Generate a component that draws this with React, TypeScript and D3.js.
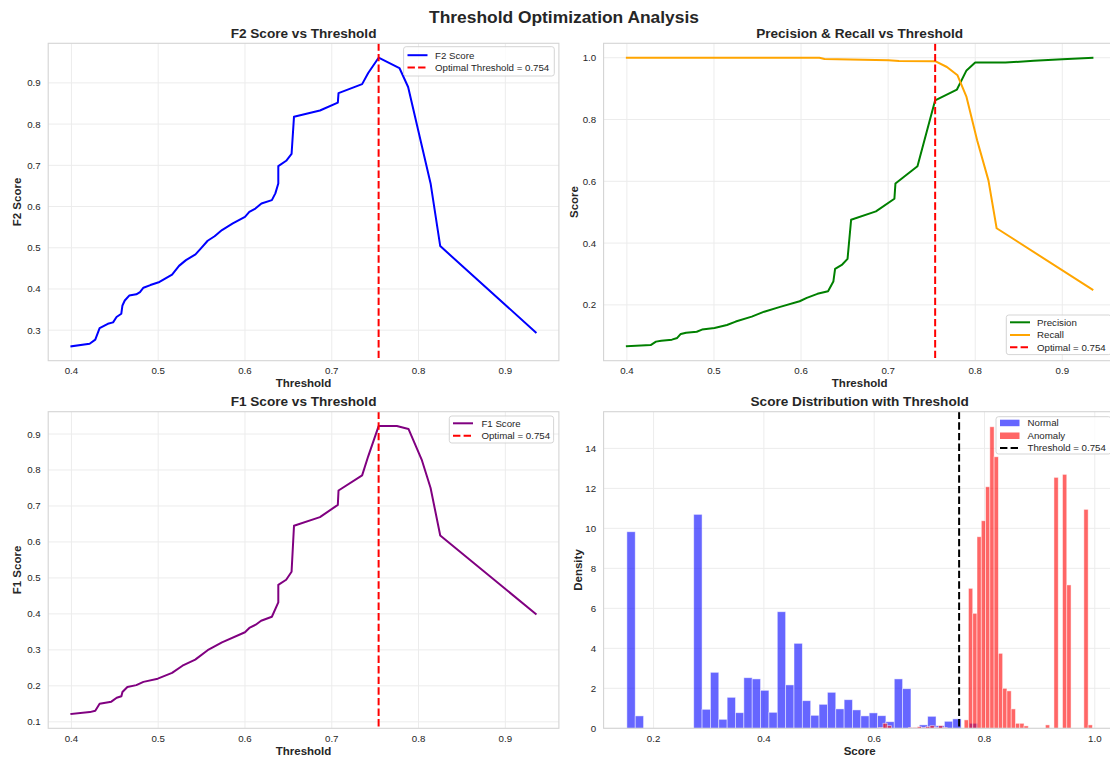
import React from 'react';
import * as d3 from 'd3';

// ---------------- DATA ----------------
const optimalThreshold = 0.754;

const f2Points: [number, number][] = [
  [0.4, 0.261], [0.421, 0.267], [0.4275, 0.277], [0.4325, 0.305], [0.442, 0.3155], [0.448, 0.319],
  [0.452, 0.332], [0.4575, 0.34], [0.4588, 0.36], [0.4615, 0.372], [0.4666, 0.384], [0.4748, 0.387],
  [0.479, 0.3925], [0.483, 0.403], [0.491, 0.4095], [0.5015, 0.417], [0.516, 0.435], [0.524, 0.456],
  [0.532, 0.47], [0.543, 0.484], [0.549, 0.498], [0.557, 0.517], [0.565, 0.528], [0.5735, 0.543],
  [0.586, 0.559], [0.6, 0.575], [0.605, 0.587], [0.612, 0.595], [0.619, 0.6075], [0.631, 0.6156],
  [0.635, 0.632], [0.6384, 0.656], [0.6384, 0.698], [0.6475, 0.711], [0.6537, 0.7275], [0.6565, 0.818],
  [0.6864, 0.833], [0.707, 0.852], [0.7078, 0.875], [0.735, 0.897], [0.742, 0.924], [0.754, 0.961],
  [0.778, 0.936], [0.788, 0.89], [0.8139, 0.656], [0.825, 0.504], [0.935, 0.295],
];

const precisionPoints: [number, number][] = [
  [0.4, 0.066], [0.4273, 0.07], [0.4334, 0.081], [0.4395, 0.084], [0.4517, 0.0875], [0.4578, 0.093],
  [0.4619, 0.106], [0.468, 0.11], [0.4802, 0.113], [0.4863, 0.12], [0.5006, 0.125], [0.5149, 0.135],
  [0.525, 0.146], [0.5434, 0.162], [0.5577, 0.178], [0.576, 0.1935], [0.5984, 0.2117], [0.6066, 0.2227],
  [0.6188, 0.2357], [0.631, 0.244], [0.6371, 0.2755], [0.6391, 0.3167], [0.6473, 0.3306], [0.6534, 0.349],
  [0.6575, 0.4755], [0.686, 0.5025], [0.7072, 0.5436], [0.7084, 0.593], [0.7337, 0.649], [0.754, 0.862],
  [0.779, 0.897], [0.79, 0.959], [0.8, 0.9845], [0.8347, 0.9845], [0.8673, 0.99], [0.9, 0.995], [0.9346, 1.0],
];

const recallPoints: [number, number][] = [
  [0.4, 1.0], [0.621, 1.0], [0.627, 0.996], [0.7003, 0.992], [0.7125, 0.9897], [0.754, 0.9887],
  [0.7675, 0.97], [0.7797, 0.943], [0.79, 0.873], [0.8022, 0.7326], [0.8152, 0.603], [0.8246, 0.448],
  [0.9346, 0.2496],
];

const f1Points: [number, number][] = [
  [0.4, 0.122], [0.4213, 0.127], [0.4275, 0.131], [0.4325, 0.15], [0.446, 0.156], [0.4522, 0.167],
  [0.4576, 0.171], [0.4588, 0.183], [0.4645, 0.197], [0.4748, 0.202], [0.483, 0.211], [0.4995, 0.22],
  [0.516, 0.236], [0.528, 0.256], [0.5427, 0.273], [0.557, 0.299], [0.5735, 0.321], [0.6, 0.349],
  [0.605, 0.361], [0.6124, 0.37], [0.6186, 0.381], [0.631, 0.392], [0.6384, 0.432], [0.6384, 0.4805],
  [0.6475, 0.495], [0.6537, 0.517], [0.6565, 0.645], [0.6864, 0.669], [0.707, 0.703], [0.7078, 0.743],
  [0.735, 0.785], [0.742, 0.838], [0.754, 0.922], [0.775, 0.922], [0.7884, 0.914], [0.8036, 0.829],
  [0.8139, 0.75], [0.825, 0.618], [0.935, 0.4],
];

const normalBinStart = 0.1516;
const normalBinWidth = 0.01515;
const normalDensity = [
  9.83, 0.62, 0, 0, 0, 0, 0, 0, 10.7, 0.95, 2.8, 0.45, 1.55, 0.78, 2.53, 2.47, 1.9, 0.8, 5.83, 2.17,
  4.25, 1.38, 0.65, 1.2, 1.8, 0.97, 1.43, 0.92, 0.62, 0.77, 0.63, 0.33, 2.47, 1.98, 0.03, 0.17, 0.6,
  0.13, 0.35, 0.47, 0, 0.25,
];

const anomalyBinStart = 0.6082;
const anomalyBinWidth = 0.00775;
const anomalyDensity = [
  0.04, 0.25, 0.13, 0, 0, 0, 0, 0.04, 0.04, 0.08, 0.04, 0.08, 0.13, 0.04, 0.13, 0.04, 0, 0, 0, 0,
  0.42, 7.0, 5.75, 9.58, 10.38, 12.08, 15.08, 13.58, 3.75, 2.0, 1.87, 0.97, 0.25, 0.25, 0.12, 0, 0, 0,
  0, 0.17, 0, 12.55, 0, 12.7, 7.17, 0, 0, 0, 10.95, 0.17,
];

const thresholdTicks = [0.4, 0.5, 0.6, 0.7, 0.8, 0.9];
const f2Ticks = [0.3, 0.4, 0.5, 0.6, 0.7, 0.8, 0.9];
const prTicks = [0.2, 0.4, 0.6, 0.8, 1.0];
const f1Ticks = [0.1, 0.2, 0.3, 0.4, 0.5, 0.6, 0.7, 0.8, 0.9];
const scoreTicks = [0.2, 0.4, 0.6, 0.8, 1.0];
const densityTicks = [0, 2, 4, 6, 8, 10, 12, 14];

// ---------------- STYLE / LAYOUT ----------------
const FONT = "'Liberation Sans', Arial, Helvetica, sans-serif";
const TXT = '#262626';
const GRID = '#ececec';
const SPINE = '#d4d4d4';

const LEFT = { x0: 48.2, x1: 558.9 };
const RIGHT = { x0: 603.6, x1: 1115.7 };
const TOP = { y0: 43.3, y1: 360.7 };
const BOTTOM = { y0: 411.7, y1: 728.3 };

const padded = (lo: number, hi: number): [number, number] => {
  const m = (hi - lo) * 0.05;
  return [lo - m, hi + m];
};

const extentOf = (arrs: [number, number][][], idx: 0 | 1): [number, number] => {
  const all = arrs.flat().map((p) => p[idx]);
  return [d3.min(all)!, d3.max(all)!];
};

const fmt1 = d3.format('.1f');
const fmt0 = d3.format('d');

type PanelProps = {
  id: string;
  box: { x0: number; x1: number; y0: number; y1: number };
  x: d3.ScaleLinear<number, number>;
  y: d3.ScaleLinear<number, number>;
  xTicks: number[];
  yTicks: number[];
  xFmt: (v: number) => string;
  yFmt: (v: number) => string;
  title: string;
  xLabel: string;
  yLabel: string;
  yLabelX: number;
  children?: React.ReactNode;
  overlay?: React.ReactNode;
};

function Panel(p: PanelProps) {
  const { box, x, y } = p;
  const cx = (box.x0 + box.x1) / 2;
  const cy = (box.y0 + box.y1) / 2;
  return (
    <g>
      <defs>
        <clipPath id={p.id}>
          <rect x={box.x0} y={box.y0} width={box.x1 - box.x0} height={box.y1 - box.y0} />
        </clipPath>
      </defs>
      <rect x={box.x0} y={box.y0} width={box.x1 - box.x0} height={box.y1 - box.y0} fill="#fff" />
      {p.xTicks.map((t) => (
        <line key={'gx' + t} x1={x(t)} x2={x(t)} y1={box.y0} y2={box.y1} stroke={GRID} strokeWidth={1} />
      ))}
      {p.yTicks.map((t) => (
        <line key={'gy' + t} x1={box.x0} x2={box.x1} y1={y(t)} y2={y(t)} stroke={GRID} strokeWidth={1} />
      ))}
      <g clipPath={`url(#${p.id})`}>{p.children}</g>
      <rect
        x={box.x0}
        y={box.y0}
        width={box.x1 - box.x0}
        height={box.y1 - box.y0}
        fill="none"
        stroke={SPINE}
        strokeWidth={1.1}
      />
      {p.xTicks.map((t) => (
        <text key={'tx' + t} x={x(t)} y={box.y1 + 13.3} textAnchor="middle" fontSize={9.7} fill={TXT} fontFamily={FONT}>
          {p.xFmt(t)}
        </text>
      ))}
      {p.yTicks.map((t) => (
        <text key={'ty' + t} x={box.x0 - 7.5} y={y(t) + 3.5} textAnchor="end" fontSize={9.7} fill={TXT} fontFamily={FONT}>
          {p.yFmt(t)}
        </text>
      ))}
      <text x={cx} y={box.y0 - 5.5} textAnchor="middle" fontSize={13.6} fontWeight="bold" fill={TXT} fontFamily={FONT}>
        {p.title}
      </text>
      <text x={cx} y={box.y1 + 26.3} textAnchor="middle" fontSize={11.5} fontWeight="bold" fill={TXT} fontFamily={FONT}>
        {p.xLabel}
      </text>
      <text
        transform={`translate(${p.yLabelX},${cy}) rotate(-90)`}
        textAnchor="middle"
        fontSize={11.5}
        fontWeight="bold"
        fill={TXT}
        fontFamily={FONT}
      >
        {p.yLabel}
      </text>
      {p.overlay}
    </g>
  );
}

type LegendItem = { label: string; color: string; kind: 'line' | 'dash' | 'patch'; opacity?: number };

function Legend({ x, y, w, rows, items, lineX, textX }: {
  x: number; y: number; w: number; rows: number[]; items: LegendItem[]; lineX: number; textX: number;
}) {
  const h = rows[rows.length - 1] - y + (rows[0] - y) ;
  return (
    <g fontFamily={FONT}>
      <rect x={x} y={y} width={w} height={h} rx={2.5} fill="#fff" fillOpacity={0.8} stroke="#d0d0d0" strokeWidth={0.9} />
      {items.map((it, i) => (
        <g key={it.label}>
          {it.kind === 'patch' ? (
            <rect x={lineX} y={rows[i] - 3} width={19.5} height={6.5} fill={it.color} fillOpacity={it.opacity ?? 1} />
          ) : (
            <line
              x1={lineX}
              x2={lineX + 20}
              y1={rows[i]}
              y2={rows[i]}
              stroke={it.color}
              strokeWidth={2}
              strokeDasharray={it.kind === 'dash' ? '7.4,3.2' : undefined}
            />
          )}
          <text x={textX} y={rows[i] + 3.4} fontSize={9.7} fill={TXT}>
            {it.label}
          </text>
        </g>
      ))}
    </g>
  );
}

export default function App() {
  // ---- F2 panel
  const f2Box = { ...LEFT, ...TOP };
  const f2x = d3.scaleLinear().domain(padded(...extentOf([f2Points], 0))).range([f2Box.x0, f2Box.x1]);
  const f2y = d3.scaleLinear().domain(padded(...extentOf([f2Points], 1))).range([f2Box.y1, f2Box.y0]);
  const f2Line = d3.line<[number, number]>().x((d) => f2x(d[0])).y((d) => f2y(d[1]));

  // ---- Precision / Recall panel
  const prBox = { ...RIGHT, ...TOP };
  const prx = d3.scaleLinear().domain(padded(...extentOf([precisionPoints, recallPoints], 0))).range([prBox.x0, prBox.x1]);
  const pry = d3.scaleLinear().domain(padded(...extentOf([precisionPoints, recallPoints], 1))).range([prBox.y1, prBox.y0]);
  const prLine = d3.line<[number, number]>().x((d) => prx(d[0])).y((d) => pry(d[1]));

  // ---- F1 panel
  const f1Box = { ...LEFT, ...BOTTOM };
  const f1x = d3.scaleLinear().domain(padded(...extentOf([f1Points], 0))).range([f1Box.x0, f1Box.x1]);
  const f1y = d3.scaleLinear().domain(padded(...extentOf([f1Points], 1))).range([f1Box.y1, f1Box.y0]);
  const f1Line = d3.line<[number, number]>().x((d) => f1x(d[0])).y((d) => f1y(d[1]));

  // ---- Histogram panel
  const hBox = { ...RIGHT, ...BOTTOM };
  const normalBins = normalDensity.map((v, i) => ({ x0: normalBinStart + i * normalBinWidth, x1: normalBinStart + (i + 1) * normalBinWidth, v }));
  const anomalyBins = anomalyDensity.map((v, i) => ({ x0: anomalyBinStart + i * anomalyBinWidth, x1: anomalyBinStart + (i + 1) * anomalyBinWidth, v }));
  const hxMin = Math.min(normalBins[0].x0, anomalyBins[0].x0);
  const hxMax = Math.max(normalBins[normalBins.length - 1].x1, anomalyBins[anomalyBins.length - 1].x1);
  const hx = d3.scaleLinear().domain(padded(hxMin, hxMax)).range([hBox.x0, hBox.x1]);
  const hMax = d3.max([...normalDensity, ...anomalyDensity])!;
  const hy = d3.scaleLinear().domain([0, hMax * 1.05]).range([hBox.y1, hBox.y0]);

  const vline = (xs: d3.ScaleLinear<number, number>, box: { y0: number; y1: number }, color: string) => (
    <line x1={xs(optimalThreshold)} x2={xs(optimalThreshold)} y1={box.y0} y2={box.y1} stroke={color} strokeWidth={2} strokeDasharray="7.4,3.2" />
  );

  return (
    <svg
      width={1110}
      height={758}
      viewBox="0 0 1110 758"
      style={{ position: 'absolute', left: 0, top: 0, background: '#fff' }}
      fontFamily={FONT}
    >
      <rect x={0} y={0} width={1110} height={758} fill="#fff" />
      <text x={564} y={22.7} textAnchor="middle" fontSize={17.4} fontWeight="bold" fill={TXT}>
        Threshold Optimization Analysis
      </text>

      <Panel
        id="c-f2"
        box={f2Box}
        x={f2x}
        y={f2y}
        xTicks={thresholdTicks}
        yTicks={f2Ticks}
        xFmt={fmt1}
        yFmt={fmt1}
        title="F2 Score vs Threshold"
        xLabel="Threshold"
        yLabel="F2 Score"
        yLabelX={21.4}
        overlay={
          <Legend
            x={403.6}
            y={46.7}
            w={150.7}
            rows={[55.2, 67.5]}
            lineX={407.5}
            textX={435}
            items={[
              { label: 'F2 Score', color: '#0000ff', kind: 'line' },
              { label: `Optimal Threshold = ${optimalThreshold}`, color: '#ff0000', kind: 'dash' },
            ]}
          />
        }
      >
        <path d={f2Line(f2Points)!} fill="none" stroke="#0000ff" strokeWidth={2} strokeLinejoin="round" strokeLinecap="square" />
        {vline(f2x, f2Box, '#ff0000')}
      </Panel>

      <Panel
        id="c-pr"
        box={prBox}
        x={prx}
        y={pry}
        xTicks={thresholdTicks}
        yTicks={prTicks}
        xFmt={fmt1}
        yFmt={fmt1}
        title="Precision & Recall vs Threshold"
        xLabel="Threshold"
        yLabel="Score"
        yLabelX={578}
        overlay={
          <Legend
            x={1006.3}
            y={315}
            w={105}
            rows={[322.3, 335, 347.3]}
            lineX={1010}
            textX={1037}
            items={[
              { label: 'Precision', color: '#008000', kind: 'line' },
              { label: 'Recall', color: '#ffa500', kind: 'line' },
              { label: `Optimal = ${optimalThreshold}`, color: '#ff0000', kind: 'dash' },
            ]}
          />
        }
      >
        <path d={prLine(precisionPoints)!} fill="none" stroke="#008000" strokeWidth={2} strokeLinejoin="round" strokeLinecap="square" />
        <path d={prLine(recallPoints)!} fill="none" stroke="#ffa500" strokeWidth={2} strokeLinejoin="round" strokeLinecap="square" />
        {vline(prx, prBox, '#ff0000')}
      </Panel>

      <Panel
        id="c-f1"
        box={f1Box}
        x={f1x}
        y={f1y}
        xTicks={thresholdTicks}
        yTicks={f1Ticks}
        xFmt={fmt1}
        yFmt={fmt1}
        title="F1 Score vs Threshold"
        xLabel="Threshold"
        yLabel="F1 Score"
        yLabelX={21.4}
        overlay={
          <Legend
            x={449.3}
            y={416}
            w={104.3}
            rows={[423.3, 435.7]}
            lineX={453}
            textX={481.4}
            items={[
              { label: 'F1 Score', color: '#800080', kind: 'line' },
              { label: `Optimal = ${optimalThreshold}`, color: '#ff0000', kind: 'dash' },
            ]}
          />
        }
      >
        <path d={f1Line(f1Points)!} fill="none" stroke="#800080" strokeWidth={2} strokeLinejoin="round" strokeLinecap="square" />
        {vline(f1x, f1Box, '#ff0000')}
      </Panel>

      <Panel
        id="c-hist"
        box={hBox}
        x={hx}
        y={hy}
        xTicks={scoreTicks}
        yTicks={densityTicks}
        xFmt={fmt1}
        yFmt={fmt0}
        title="Score Distribution with Threshold"
        xLabel="Score"
        yLabel="Density"
        yLabelX={581.7}
        overlay={
          <Legend
            x={996}
            y={416.7}
            w={115}
            rows={[422.7, 435.5, 448]}
            lineX={1000}
            textX={1027.5}
            items={[
              { label: 'Normal', color: '#0000ff', kind: 'patch', opacity: 0.6 },
              { label: 'Anomaly', color: '#ff0000', kind: 'patch', opacity: 0.6 },
              { label: `Threshold = ${optimalThreshold}`, color: '#000000', kind: 'dash' },
            ]}
          />
        }
      >
        {normalBins.filter((b) => b.v > 0).map((b, i) => (
          <rect
            key={'n' + i}
            x={hx(b.x0)}
            y={hy(b.v)}
            width={hx(b.x1) - hx(b.x0)}
            height={hy(0) - hy(b.v)}
            fill="#0000ff"
            fillOpacity={0.6}
            stroke="#ffffff"
            strokeOpacity={0.6}
            strokeWidth={0.8}
          />
        ))}
        {anomalyBins.filter((b) => b.v > 0).map((b, i) => (
          <rect
            key={'a' + i}
            x={hx(b.x0)}
            y={hy(b.v)}
            width={hx(b.x1) - hx(b.x0)}
            height={hy(0) - hy(b.v)}
            fill="#ff0000"
            fillOpacity={0.6}
            stroke="#ffffff"
            strokeOpacity={0.6}
            strokeWidth={0.8}
          />
        ))}
        {vline(hx, hBox, '#000000')}
      </Panel>
    </svg>
  );
}
